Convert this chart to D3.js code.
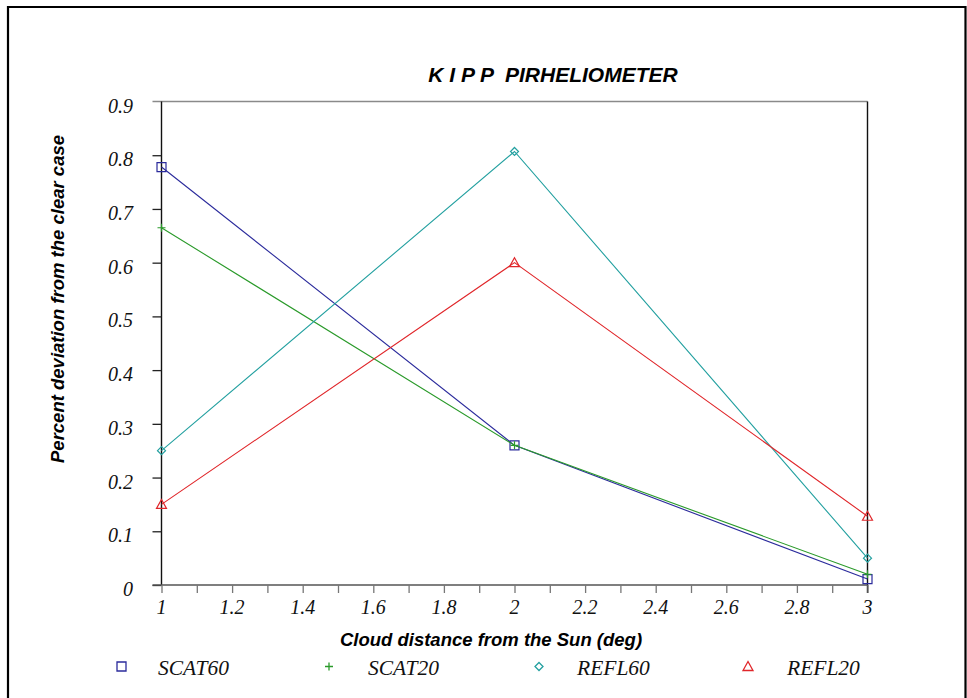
<!DOCTYPE html>
<html>
<head>
<meta charset="utf-8">
<script src="https://cdn.jsdelivr.net/npm/d3@7"></script>
<style>
  html, body { margin: 0; padding: 0; background: #fff; }
  svg { display: block; }
  text { white-space: pre; }
</style>
</head>
<body>
<svg id="chart" width="967" height="698"></svg>
<script>
const xValues = [1, 2, 3];
const seriesNames = ["SCAT60", "SCAT20", "REFL60", "REFL20"];
const scat60 = [0.778, 0.26, 0.011];
const scat20 = [0.665, 0.26, 0.02];
const refl60 = [0.25, 0.807, 0.05];
const refl20 = [0.15, 0.60, 0.128];
const seriesColors = ["#2b2b9c", "#2a9a2a", "#23a0a0", "#e0262a"];
const seriesSymbols = ["square", "plus", "diamond", "triangle"];
const yTickValues = [0, 0.1, 0.2, 0.3, 0.4, 0.5, 0.6, 0.7, 0.8, 0.9];
const yTickLabels = ["0", "0.1", "0.2", "0.3", "0.4", "0.5", "0.6", "0.7", "0.8", "0.9"];
const xTickValues = [1, 1.1, 1.2, 1.3, 1.4, 1.5, 1.6, 1.7, 1.8, 1.9, 2, 2.1, 2.2, 2.3, 2.4, 2.5, 2.6, 2.7, 2.8, 2.9, 3];
const xLabelValues = [1, 1.2, 1.4, 1.6, 1.8, 2, 2.2, 2.4, 2.6, 2.8, 3];
const xLabelTexts = ["1", "1.2", "1.4", "1.6", "1.8", "2", "2.2", "2.4", "2.6", "2.8", "3"];
const titleText = "K I P P  PIRHELIOMETER";
const xTitle = "Cloud distance from the Sun (deg)";
const yTitle = "Percent deviation from the clear case";

const seriesValues = [scat60, scat20, refl60, refl20];

const svg = d3.select("#chart");

// outer frame
svg.append("path")
  .attr("d", "M8,698 L8,7 L965.5,7 L965.5,698")
  .attr("fill", "none").attr("stroke", "#000").attr("stroke-width", 2.2);

const L = 161.5, R = 867.5, T = 101.5, B = 585;
const x = d3.scaleLinear().domain([1, 3]).range([L, R]);
const y = d3.scaleLinear().domain([0, 0.9]).range([B, T]);

// top frame line (gray) and right line (black)
svg.append("line").attr("x1", L - 9).attr("x2", R).attr("y1", y(0.9)).attr("y2", y(0.9))
  .attr("stroke", "#8a8a8a").attr("stroke-width", 1.3);
svg.append("line").attr("x1", R).attr("x2", R).attr("y1", T).attr("y2", B + 8)
  .attr("stroke", "#111").attr("stroke-width", 1.4);

// y axis
const yAxis = d3.axisLeft(y).tickValues(yTickValues.slice(0, 9)).tickSize(9).tickFormat("");
const gy = svg.append("g").attr("transform", `translate(${L},0)`).call(yAxis);
gy.select(".domain").attr("stroke", "#111").attr("stroke-width", 1.4).attr("d", `M0,${T}V${B}`);
gy.selectAll(".tick line").attr("stroke", "#222").attr("stroke-width", 1.3);

// x axis
const xAxis = d3.axisBottom(x).tickValues(xTickValues).tickSize(8).tickFormat("");
const gx = svg.append("g").attr("transform", `translate(0,${B})`).call(xAxis);
gx.select(".domain").attr("stroke", "#555").attr("stroke-width", 1.4).attr("d", `M${L - 9},0H${R}`);
gx.selectAll(".tick line").attr("stroke", "#777").attr("stroke-width", 1.3);

// y tick labels
svg.append("g").selectAll("text").data(yTickValues).join("text")
  .attr("x", 133).attr("y", d => y(d) + 11)
  .attr("text-anchor", "end")
  .attr("font-family", "'Liberation Serif', 'DejaVu Serif', serif")
  .attr("font-style", "italic").attr("font-size", 20).attr("fill", "#111")
  .text((d, i) => yTickLabels[i]);

// x tick labels
svg.append("g").selectAll("text").data(xLabelValues).join("text")
  .attr("x", d => x(d)).attr("y", 614)
  .attr("text-anchor", "middle")
  .attr("font-family", "'Liberation Serif', 'DejaVu Serif', serif")
  .attr("font-style", "italic").attr("font-size", 20).attr("fill", "#111")
  .text((d, i) => xLabelTexts[i]);

// titles
svg.append("text").attr("x", 553).attr("y", 82).attr("text-anchor", "middle")
  .attr("font-family", "'Liberation Sans', Arial, sans-serif")
  .attr("font-weight", "bold").attr("font-style", "italic").attr("font-size", 21)
  .text(titleText);
svg.append("text").attr("x", 491).attr("y", 646).attr("text-anchor", "middle")
  .attr("font-family", "'Liberation Sans', Arial, sans-serif")
  .attr("font-weight", "bold").attr("font-style", "italic").attr("font-size", 18.5)
  .text(xTitle);
svg.append("text").attr("transform", "translate(64,299) rotate(-90)").attr("text-anchor", "middle")
  .attr("font-family", "'Liberation Sans', Arial, sans-serif")
  .attr("font-weight", "bold").attr("font-style", "italic").attr("font-size", 18.5)
  .text(yTitle);

// symbol drawer
function symbolPath(type, s) {
  if (type === "square") return `M${-s},${-s}H${s}V${s}H${-s}Z`;
  if (type === "plus") return `M${-s},0H${s}M0,${-s}V${s}`;
  if (type === "diamond") return `M0,${-s}L${s},0L0,${s}L${-s},0Z`;
  if (type === "triangle") return `M0,${-s}L${s},${s * 0.8}L${-s},${s * 0.8}Z`;
}
const symSize = { square: 4.5, plus: 4, diamond: 4, triangle: 5 };

const line = d3.line().x((d, i) => x(xValues[i])).y(d => y(d));

seriesValues.forEach((vals, si) => {
  const c = seriesColors[si];
  svg.append("path").datum(vals).attr("d", line)
    .attr("fill", "none").attr("stroke", c).attr("stroke-width", 1.1);
  svg.append("g").selectAll("path").data(vals).join("path")
    .attr("transform", (d, i) => `translate(${x(xValues[i])},${y(d)})`)
    .attr("d", symbolPath(seriesSymbols[si], symSize[seriesSymbols[si]]))
    .attr("fill", "none").attr("stroke", c).attr("stroke-width", 1.2);
});

// legend
const legendSymX = [121.5, 329, 539, 748];
const legendTextX = [158, 368, 577, 787];
seriesNames.forEach((name, si) => {
  const c = seriesColors[si];
  svg.append("path")
    .attr("transform", `translate(${legendSymX[si]},666.5)`)
    .attr("d", symbolPath(seriesSymbols[si], symSize[seriesSymbols[si]]))
    .attr("fill", "none").attr("stroke", c).attr("stroke-width", 1.3);
  svg.append("text").attr("x", legendTextX[si]).attr("y", 675)
    .attr("font-family", "'Liberation Serif', 'DejaVu Serif', serif")
    .attr("font-style", "italic").attr("font-size", 21.5).attr("fill", "#111")
    .text(name);
});
</script>
</body>
</html>
